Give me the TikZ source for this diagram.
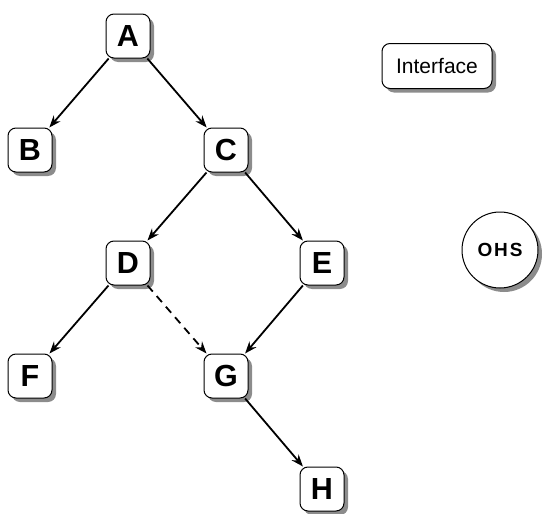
\documentclass[tikz,border=0pt]{standalone}
\usepackage{fontspec}
\setmainfont{Liberation Sans}
\usetikzlibrary{shadows,arrows.meta}
\begin{document}
\begin{tikzpicture}[x=1pt,y=-1pt,
  letterbox/.style={draw=black, line width=1pt, fill=white, rounded corners=8pt,
    minimum width=44pt, minimum height=44pt, inner sep=0pt,
    font=\fontsize{30.5}{33}\selectfont\bfseries,
    drop shadow={shadow xshift=4pt, shadow yshift=-4pt, fill=black!45, opacity=1}},
  edge/.style={line width=1.8pt, -{Stealth[length=12pt,width=9pt]}}
]
\useasboundingbox (0,0) rectangle (544,514);
\node[letterbox] (A) at (128,36) {A};
\node[letterbox] (B) at (30,150) {B};
\node[letterbox] (C) at (226,150) {C};
\node[letterbox] (D) at (128,263) {D};
\node[letterbox] (E) at (322,263) {E};
\node[letterbox] (F) at (30,376) {F};
\node[letterbox] (G) at (226,376) {G};
\node[letterbox] (H) at (322,489) {H};
\node[draw=black, line width=1pt, fill=white, rounded corners=8pt,
  minimum width=110pt, minimum height=45pt, inner sep=0pt,
  font=\fontsize{21}{23}\selectfont,
  drop shadow={shadow xshift=4pt, shadow yshift=-4pt, fill=black!45, opacity=1}] (I) at (437,66) {Interface};
\node[circle, draw=black, line width=1pt, fill=white, minimum size=76pt, inner sep=0pt,
  font=\fontsize{19}{21}\selectfont\bfseries\addfontfeature{LetterSpace=10},
  drop shadow={shadow xshift=4pt, shadow yshift=-4pt, fill=black!45, opacity=1}] (O) at (500,250) {OHS};
\draw[edge] (A) -- (B);
\draw[edge] (A) -- (C);
\draw[edge] (C) -- (D);
\draw[edge] (C) -- (E);
\draw[edge] (D) -- (F);
\draw[edge, dashed, dash pattern=on 8pt off 6pt] (D) -- (G);
\draw[edge] (E) -- (G);
\draw[edge] (G) -- (H);
\end{tikzpicture}
\end{document}
